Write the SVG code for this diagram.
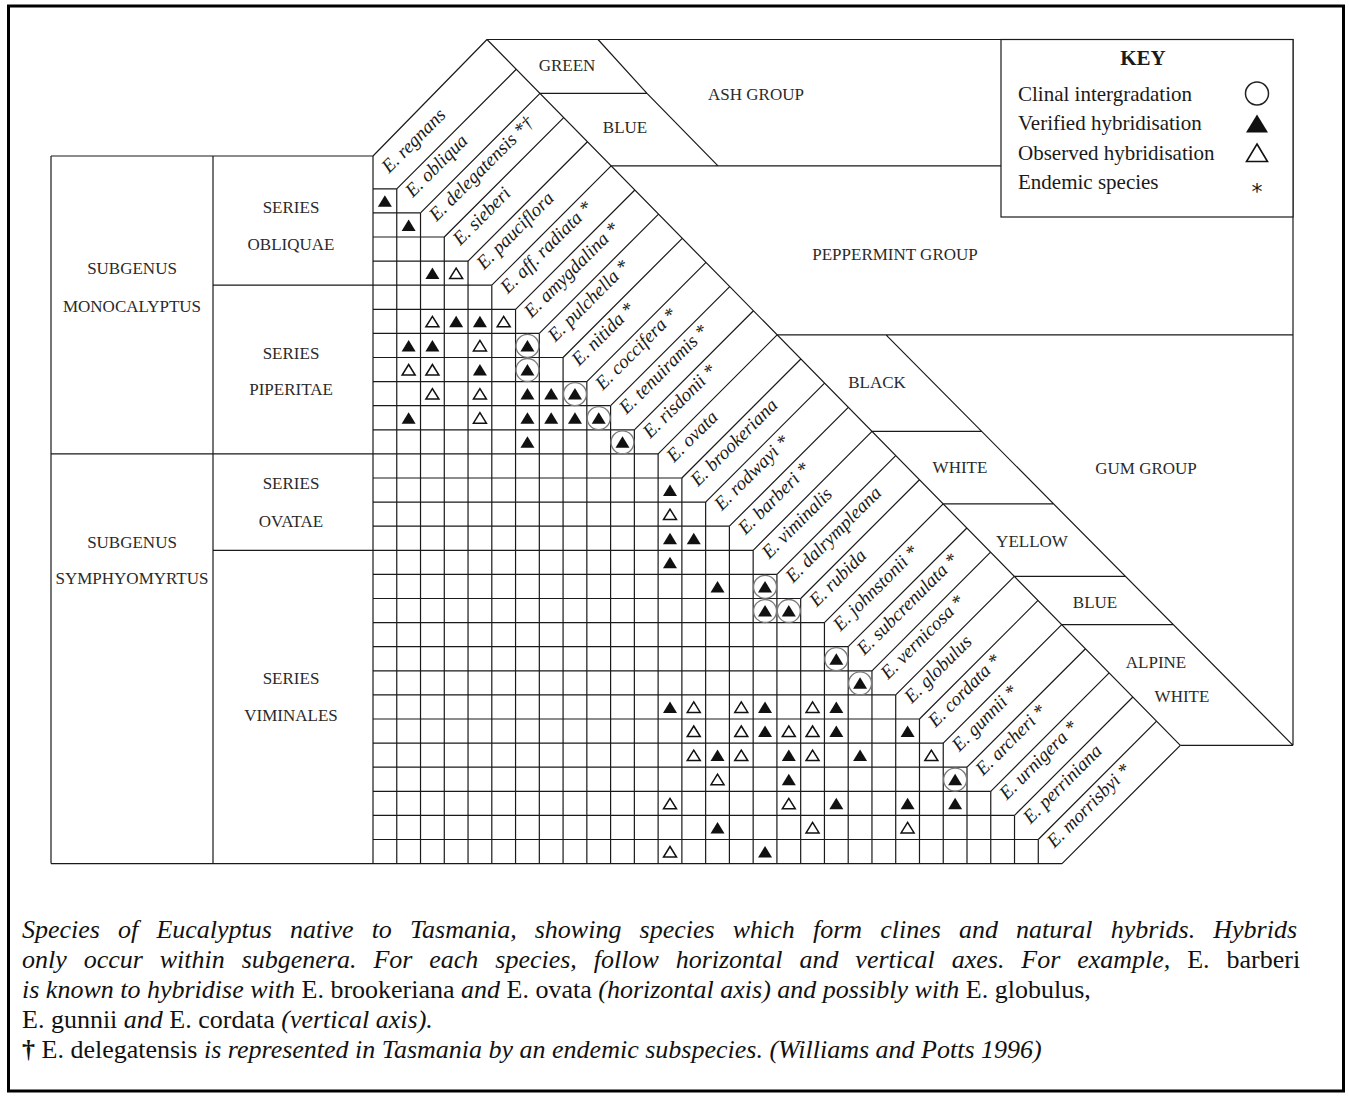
<svg xmlns="http://www.w3.org/2000/svg" xmlns:xlink="http://www.w3.org/1999/xlink" width="1349" height="1097" viewBox="0 0 1349 1097">
<style>
.ln{fill:none;stroke:#1a1a1a;stroke-width:1.2}
.cap{font-family:"Liberation Serif","Times New Roman",serif;font-size:17px;fill:#2a2a2a;text-anchor:middle}
.sp{font-family:"Liberation Serif","Times New Roman",serif;font-size:19px;font-style:italic;fill:#1a1a1a}
.key{font-family:"Liberation Serif","Times New Roman",serif;font-size:21px;fill:#1a1a1a}
.cp{font-family:"Liberation Serif","Times New Roman",serif;font-size:26px;fill:#111}
.it{font-style:italic}
</style>
<defs>
<path id="tf" d="M0,-6 L7,5.5 L-7,5.5 Z" fill="#111"/>
<path id="to" d="M0,-5.5 L6.5,5 L-6.5,5 Z" fill="none" stroke="#111" stroke-width="1.5"/>
<g id="tc"><circle r="11.5" fill="none" stroke="#7a7a7a" stroke-width="1.3"/><use href="#tf"/></g>
</defs>
<rect width="1349" height="1097" fill="#fff"/>
<rect id="frame" x="8.5" y="6" width="1335" height="1085" fill="none" stroke="#000" stroke-width="3"/>

<g id="left-table">
<path class="ln" d="M51,156 H373 M51,156 V863.6 M213,156 V863.6"/>
<text class="cap" x="132" y="274">SUBGENUS</text>
<text class="cap" x="132" y="311.5">MONOCALYPTUS</text>
<text class="cap" x="291" y="212.5">SERIES</text>
<text class="cap" x="291" y="250">OBLIQUAE</text>
<text class="cap" x="291" y="358.5">SERIES</text>
<text class="cap" x="291" y="395">PIPERITAE</text>
<text class="cap" x="291" y="488.5">SERIES</text>
<text class="cap" x="291" y="527">OVATAE</text>
<text class="cap" x="132" y="547.5">SUBGENUS</text>
<text class="cap" x="132" y="583.5">SYMPHYOMYRTUS</text>
<text class="cap" x="291" y="683.5">SERIES</text>
<text class="cap" x="291" y="721">VIMINALES</text>
</g>

<g id="grid">
<path class="ln" d="M373,188.8 H396.76 M373,212.9 H420.52 M373,237 H444.28 M373,261.1 H468.04 M213,285.2 H491.8 M373,309.3 H515.56 M373,333.4 H539.32 M373,357.5 H563.08 M373,381.6 H586.84 M373,405.7 H610.6 M373,429.8 H634.36 M51,453.9 H658.12 M373,478 H681.88 M373,502.1 H705.64 M373,526.2 H729.4 M213,550.3 H753.16 M373,574.4 H776.92 M373,598.5 H800.68 M373,622.6 H824.44 M373,646.7 H848.2 M373,670.8 H871.96 M373,694.9 H895.72 M373,719 H919.48 M373,743.1 H943.24 M373,767.2 H967 M373,791.3 H990.76 M373,815.4 H1014.52 M373,839.5 H1038.28 M51,863.6 H1062.04"/>
<path class="ln" d="M373,156 V863.6 M396.76,188.8 V863.6 M420.52,212.9 V863.6 M444.28,237 V863.6 M468.04,261.1 V863.6 M491.8,285.2 V863.6 M515.56,309.3 V863.6 M539.32,333.4 V863.6 M563.08,357.5 V863.6 M586.84,381.6 V863.6 M610.6,405.7 V863.6 M634.36,429.8 V863.6 M658.12,453.9 V863.6 M681.88,478 V863.6 M705.64,502.1 V863.6 M729.4,526.2 V863.6 M753.16,550.3 V863.6 M776.92,574.4 V863.6 M800.68,598.5 V863.6 M824.44,622.6 V863.6 M848.2,646.7 V863.6 M871.96,670.8 V863.6 M895.72,694.9 V863.6 M919.48,719 V863.6 M943.24,743.1 V863.6 M967,767.2 V863.6 M990.76,791.3 V863.6 M1014.52,815.4 V863.6 M1038.28,839.5 V863.6"/>
</g>

<g id="bands">
<path class="ln" d="M373,156 L487,39.5 M396.76,188.8 L516.27,69.29 M420.52,212.9 L539.98,93.44 M444.28,237 L563.7,117.58 M468.04,261.1 L587.42,141.72 M491.8,285.2 L611.13,165.87 M515.56,309.3 L634.85,190.01 M539.32,333.4 L658.57,214.15 M563.08,357.5 L682.28,238.3 M586.84,381.6 L706,262.44 M610.6,405.7 L729.72,286.58 M634.36,429.8 L753.43,310.73 M658.12,453.9 L777.15,334.87 M681.88,478 L800.87,359.01 M705.64,502.1 L824.58,383.16 M729.4,526.2 L848.3,407.3 M753.16,550.3 L872.02,431.44 M776.92,574.4 L895.73,455.59 M800.68,598.5 L919.45,479.73 M824.44,622.6 L943.17,503.87 M848.2,646.7 L966.88,528.02 M871.96,670.8 L990.6,552.16 M895.72,694.9 L1014.32,576.3 M919.48,719 L1038.03,600.45 M943.24,743.1 L1061.75,624.59 M967,767.2 L1085.47,648.73 M990.76,791.3 L1109.18,672.88 M1014.52,815.4 L1132.9,697.02 M1038.28,839.5 L1156.61,721.17 M1062.04,863.6 L1180.33,745.31 M487,39.5 L1180.33,745.31"/>
<text class="sp" transform="translate(389,173.8) rotate(-45)">E. regnans</text>
<text class="sp" transform="translate(412.76,197.9) rotate(-45)">E. obliqua</text>
<text class="sp" transform="translate(436.52,222) rotate(-45)">E. delegatensis *†</text>
<text class="sp" transform="translate(460.28,246.1) rotate(-45)">E. sieberi</text>
<text class="sp" transform="translate(484.04,270.2) rotate(-45)">E. pauciflora</text>
<text class="sp" transform="translate(507.8,294.3) rotate(-45)">E. aff. radiata *</text>
<text class="sp" transform="translate(531.56,318.4) rotate(-45)">E. amygdalina *</text>
<text class="sp" transform="translate(555.32,342.5) rotate(-45)">E. pulchella *</text>
<text class="sp" transform="translate(579.08,366.6) rotate(-45)">E. nitida *</text>
<text class="sp" transform="translate(602.84,390.7) rotate(-45)">E. coccifera *</text>
<text class="sp" transform="translate(626.6,414.8) rotate(-45)">E. tenuiramis *</text>
<text class="sp" transform="translate(650.36,438.9) rotate(-45)">E. risdonii *</text>
<text class="sp" transform="translate(674.12,463) rotate(-45)">E. ovata</text>
<text class="sp" transform="translate(697.88,487.1) rotate(-45)">E. brookeriana</text>
<text class="sp" transform="translate(721.64,511.2) rotate(-45)">E. rodwayi *</text>
<text class="sp" transform="translate(745.4,535.3) rotate(-45)">E. barberi *</text>
<text class="sp" transform="translate(769.16,559.4) rotate(-45)">E. viminalis</text>
<text class="sp" transform="translate(792.92,583.5) rotate(-45)">E. dalrympleana</text>
<text class="sp" transform="translate(816.68,607.6) rotate(-45)">E. rubida</text>
<text class="sp" transform="translate(840.44,631.7) rotate(-45)">E. johnstonii *</text>
<text class="sp" transform="translate(864.2,655.8) rotate(-45)">E. subcrenulata *</text>
<text class="sp" transform="translate(887.96,679.9) rotate(-45)">E. vernicosa *</text>
<text class="sp" transform="translate(911.72,704) rotate(-45)">E. globulus</text>
<text class="sp" transform="translate(935.48,728.1) rotate(-45)">E. cordata *</text>
<text class="sp" transform="translate(959.24,752.2) rotate(-45)">E. gunnii *</text>
<text class="sp" transform="translate(983,776.3) rotate(-45)">E. archeri *</text>
<text class="sp" transform="translate(1006.76,800.4) rotate(-45)">E. urnigera *</text>
<text class="sp" transform="translate(1030.52,824.5) rotate(-45)">E. perriniana</text>
<text class="sp" transform="translate(1054.28,848.6) rotate(-45)">E. morrisbyi *</text>
</g>

<g id="groups">
<path class="ln" d="M487,39.5 H1293 V745.31 M598,39.5 L647,93.44 L718,165.87 M539.98,93.44 H647 M611.13,165.87 H1001 M777.15,334.87 H1293 M886,334.87 L1293,745.31 M872.02,431.44 H981.76 M943.17,503.87 H1053.58 M1014.32,576.3 H1125.41 M1061.75,624.59 H1173.29 M1180.33,745.31 H1293"/>
<text class="cap" x="567" y="70.5">GREEN</text>
<text class="cap" x="625" y="132.5">BLUE</text>
<text class="cap" x="756" y="99.5">ASH GROUP</text>
<text class="cap" x="895" y="259.5">PEPPERMINT GROUP</text>
<text class="cap" x="877" y="388">BLACK</text>
<text class="cap" x="960" y="473">WHITE</text>
<text class="cap" x="1146" y="473.5">GUM GROUP</text>
<text class="cap" x="1032" y="546.5">YELLOW</text>
<text class="cap" x="1095" y="607.5">BLUE</text>
<text class="cap" x="1156" y="667.5">ALPINE</text>
<text class="cap" x="1182" y="701.5">WHITE</text>
</g>

<g id="key">
<rect x="1001" y="39.5" width="292" height="177.5" fill="#fff" stroke="#1a1a1a" stroke-width="1.2"/>
<text class="key" x="1143" y="65" text-anchor="middle" font-weight="bold" font-size="20">KEY</text>
<text class="key" x="1018" y="100.5">Clinal intergradation</text>
<text class="key" x="1018" y="130">Verified hybridisation</text>
<text class="key" x="1018" y="159.5">Observed hybridisation</text>
<text class="key" x="1018" y="188.5">Endemic species</text>
<circle cx="1257" cy="93.5" r="11.5" fill="none" stroke="#222" stroke-width="1.5"/>
<path d="M1257,114.5 L1268,132.5 L1246,132.5 Z" fill="#111"/>
<path d="M1257,144 L1267.5,161.5 L1246.5,161.5 Z" fill="none" stroke="#111" stroke-width="1.6"/>
<text x="1257" y="199" text-anchor="middle" font-family="'DejaVu Sans', sans-serif" font-size="22" fill="#1a1a1a">*</text>
</g>

<g id="markers">
<use href="#tf" x="384.88" y="201.3"/>
<use href="#tf" x="408.64" y="225.4"/>
<use href="#tf" x="432.4" y="273.6"/><use href="#to" x="456.16" y="273.6"/>
<use href="#to" x="432.4" y="321.8"/><use href="#tf" x="456.16" y="321.8"/><use href="#tf" x="479.92" y="321.8"/><use href="#to" x="503.68" y="321.8"/>
<use href="#tf" x="408.64" y="345.9"/><use href="#tf" x="432.4" y="345.9"/><use href="#to" x="479.92" y="345.9"/><use href="#tc" x="527.44" y="345.9"/>
<use href="#to" x="408.64" y="370"/><use href="#to" x="432.4" y="370"/><use href="#tf" x="479.92" y="370"/><use href="#tc" x="527.44" y="370"/>
<use href="#to" x="432.4" y="394.1"/><use href="#to" x="479.92" y="394.1"/><use href="#tf" x="527.44" y="394.1"/><use href="#tf" x="551.2" y="394.1"/><use href="#tc" x="574.96" y="394.1"/>
<use href="#tf" x="408.64" y="418.2"/><use href="#to" x="479.92" y="418.2"/><use href="#tf" x="527.44" y="418.2"/><use href="#tf" x="551.2" y="418.2"/><use href="#tf" x="574.96" y="418.2"/><use href="#tc" x="598.72" y="418.2"/>
<use href="#tf" x="527.44" y="442.3"/><use href="#tc" x="622.48" y="442.3"/>
<use href="#tf" x="670" y="490.5"/>
<use href="#to" x="670" y="514.6"/>
<use href="#tf" x="670" y="538.7"/><use href="#tf" x="693.76" y="538.7"/>
<use href="#tf" x="670" y="562.8"/>
<use href="#tf" x="717.52" y="586.9"/><use href="#tc" x="765.04" y="586.9"/>
<use href="#tc" x="765.04" y="611"/><use href="#tc" x="788.8" y="611"/>
<use href="#tc" x="836.32" y="659.2"/>
<use href="#tc" x="860.08" y="683.3"/>
<use href="#tf" x="670" y="707.4"/><use href="#to" x="693.76" y="707.4"/><use href="#to" x="741.28" y="707.4"/><use href="#tf" x="765.04" y="707.4"/><use href="#to" x="812.56" y="707.4"/><use href="#tf" x="836.32" y="707.4"/>
<use href="#to" x="693.76" y="731.5"/><use href="#to" x="741.28" y="731.5"/><use href="#tf" x="765.04" y="731.5"/><use href="#to" x="788.8" y="731.5"/><use href="#to" x="812.56" y="731.5"/><use href="#tf" x="836.32" y="731.5"/><use href="#tf" x="907.6" y="731.5"/>
<use href="#to" x="693.76" y="755.6"/><use href="#tf" x="717.52" y="755.6"/><use href="#to" x="741.28" y="755.6"/><use href="#tf" x="788.8" y="755.6"/><use href="#to" x="812.56" y="755.6"/><use href="#tf" x="860.08" y="755.6"/><use href="#to" x="931.36" y="755.6"/>
<use href="#to" x="717.52" y="779.7"/><use href="#tf" x="788.8" y="779.7"/><use href="#tc" x="955.12" y="779.7"/>
<use href="#to" x="670" y="803.8"/><use href="#to" x="788.8" y="803.8"/><use href="#tf" x="836.32" y="803.8"/><use href="#tf" x="907.6" y="803.8"/><use href="#tf" x="955.12" y="803.8"/>
<use href="#tf" x="717.52" y="827.9"/><use href="#to" x="812.56" y="827.9"/><use href="#to" x="907.6" y="827.9"/>
<use href="#to" x="670" y="852"/><use href="#tf" x="765.04" y="852"/>
</g>

<g id="caption" class="cp">
<text x="22" y="937.5" font-style="italic" word-spacing="11.6">Species of Eucalyptus native to Tasmania, showing species which form clines and natural hybrids. Hybrids</text>
<text x="22" y="968" word-spacing="10.4"><tspan class="it">only occur within subgenera. For each species, follow horizontal and vertical axes. For example, </tspan>E. barberi</text>
<text x="22" y="998"><tspan class="it">is known to hybridise with </tspan>E. brookeriana<tspan class="it"> and </tspan>E. ovata<tspan class="it"> (horizontal axis) and possibly with </tspan>E. globulus,</text>
<text x="22" y="1027.5">E. gunnii<tspan class="it"> and </tspan>E. cordata<tspan class="it"> (vertical axis).</tspan></text>
<text x="22" y="1057.5"><tspan font-weight="bold">†</tspan> E. delegatensis<tspan class="it"> is represented in Tasmania by an endemic subspecies. (Williams and Potts 1996)</tspan></text>
</g>
</svg>
